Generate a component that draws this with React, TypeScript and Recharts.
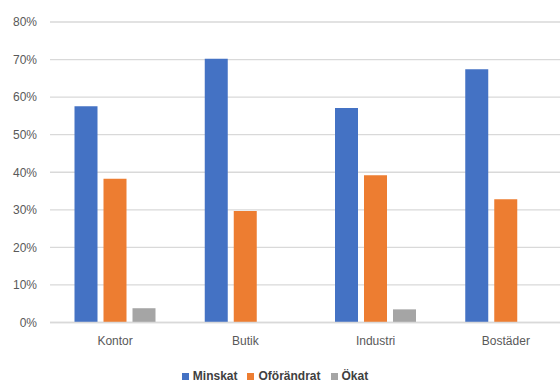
import { BarChart, Bar, XAxis, YAxis, CartesianGrid, Legend } from 'recharts';

const categories = ['Kontor', 'Butik', 'Industri', 'Bostäder'];
const minskat = [0.576, 0.702, 0.571, 0.674];
const oforandrat = [0.383, 0.297, 0.392, 0.328];
const okat = [0.038, 0, 0.035, 0];
const yTicks = [0, 0.1, 0.2, 0.3, 0.4, 0.5, 0.6, 0.7, 0.8];

const data = categories.map((name, i) => ({
    name,
    Minskat: minskat[i],
    'Oförändrat': oforandrat[i],
    'Ökat': okat[i],
}));

const font = '"Liberation Sans", Arial, sans-serif';

export default function App() {
    return (
        <div style={{ position: 'absolute', left: 0, top: 0, width: 560, height: 383, overflow: 'hidden', background: '#fff' }}>
            <BarChart
                width={571}
                height={383}
                data={data}
                margin={{ top: 22, right: 0, left: 0, bottom: 0 }}
                barCategoryGap={24.5}
                barGap={6}
            >
                <CartesianGrid vertical={false} stroke="#d9d9d9" strokeWidth={1.3} />
                <XAxis
                    dataKey="name"
                    height={46.5}
                    tickLine={false}
                    tickSize={0}
                    tickMargin={14}
                    axisLine={{ stroke: '#d9d9d9', strokeWidth: 1.3 }}
                    tick={{ fill: '#595959', fontSize: 12, fontFamily: font }}
                />
                <YAxis
                    width={50}
                    domain={[0, 0.8]}
                    ticks={yTicks}
                    tickFormatter={(v: number) => `${Math.round(v * 100)}%`}
                    axisLine={false}
                    tickLine={false}
                    tickSize={0}
                    tickMargin={13}
                    tick={{ fill: '#595959', fontSize: 12, fontFamily: font }}
                />
                <Legend
                    verticalAlign="bottom"
                    iconType="square"
                    iconSize={7}
                    wrapperStyle={{ width: 560, left: 0, fontFamily: font, fontSize: 12, fontWeight: 'bold' }}
                    formatter={(value: string) => <span style={{ color: '#404040' }}>{value}</span>}
                />
                <Bar dataKey="Minskat" fill="#4472C4" isAnimationActive={false} />
                <Bar dataKey="Oförändrat" fill="#ED7D31" isAnimationActive={false} />
                <Bar dataKey="Ökat" fill="#A5A5A5" isAnimationActive={false} />
            </BarChart>
        </div>
    );
}
